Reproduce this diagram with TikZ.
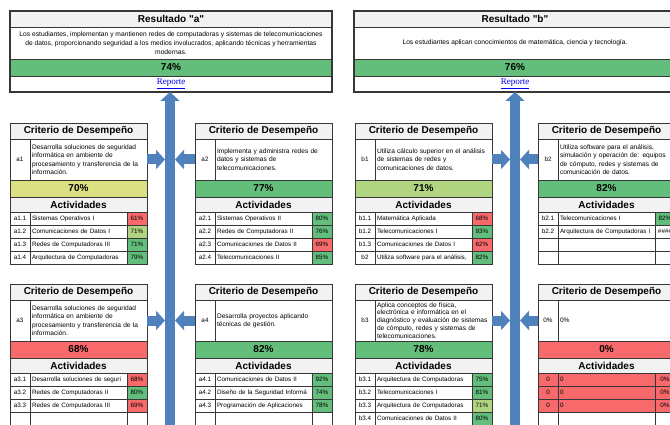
\documentclass[tikz,border=0pt]{standalone}
\usepackage{fontspec}
\setmainfont{Liberation Sans}
\newfontfamily\serifa{Liberation Serif}
\usetikzlibrary{arrows.meta}

\definecolor{verde}{RGB}{99,190,123}
\definecolor{verdeclaro}{RGB}{177,212,128}
\definecolor{amarillo}{RGB}{219,225,130}
\definecolor{rojo}{RGB}{248,105,107}
\definecolor{gris}{RGB}{242,242,242}
\definecolor{borde}{RGB}{55,55,55}
\definecolor{azul}{RGB}{79,129,189}
\definecolor{enlace}{RGB}{0,0,238}

\tikzset{
  celda/.style={draw=borde, line width=0.8pt, anchor=north west, inner sep=0pt, outer sep=0pt},
  cabecera/.style={celda, fill=gris, minimum height=16pt, font=\bfseries\fontsize{10}{12}\selectfont},
  barra/.style={celda, minimum height=17pt, font=\bfseries\fontsize{10}{12}\selectfont},
  texto/.style={celda, inner xsep=2pt, align=left, font=\fontsize{6.6}{8.3}\selectfont},
  chico/.style={celda, font=\fontsize{6.3}{7}\selectfont},
  flecha/.style={line width=10pt, draw=azul, -{Triangle[width=19pt,length=9pt]}}
}

% resultado: nombre, x, titulo, descripcion, porcentaje
\newcommand{\resultado}[5]{%
  \node[cabecera, minimum width=322pt] (#1-tit) at (#2,11) {#3};
  \node[celda, minimum width=322pt, minimum height=32pt, align=center,
        font=\fontsize{6.7}{9}\selectfont] (#1-desc) at (#2,27) {#4};
  \node[barra, fill=verde, minimum width=322pt] (#1-pct) at (#2,59) {#5};
  \node[celda, minimum width=322pt, minimum height=16pt, text=enlace,
        font=\serifa\fontsize{9}{10}\selectfont] (#1-rep) at (#2,76) {\underline{Reporte}};
  \draw[draw=borde, line width=1.3pt] (#1-tit.north west) rectangle (#1-rep.south east);
}

% criterio: nombre, x, y, clave, descripcion, porcentaje, color
\newcommand{\criterio}[7]{%
  \node[cabecera, minimum width=137pt] (#1-tit) at (#2,#3) {Criterio de Desempeño};
  \node[chico, minimum width=20pt, minimum height=41pt] (#1-id) at (#2,#3+16) {#4};
  \node[texto, text width=113pt, minimum height=41pt] (#1-desc) at (#2+20,#3+16) {#5};
  \node[barra, fill=#7, minimum width=137pt] (#1-pct) at (#2,#3+57) {#6};
  \node[cabecera, minimum height=15pt, minimum width=137pt] (#1-act) at (#2,#3+74) {Actividades};
}

% actividad: nombre, x, y, clave, materia, porcentaje, color, color de celda
\newcommand{\actividad}[8]{%
  \node[chico, fill=#8, minimum width=20pt, minimum height=13pt] (#1-id) at (#2,#3) {#4};
  \node[texto, fill=#8, text width=93pt, minimum height=13pt, font=\fontsize{6.3}{7}\selectfont]
    (#1-nom) at (#2+20,#3) {\mbox{#5}};
  \node[chico, fill=#7, minimum width=20pt, minimum height=13pt] (#1-pct) at (#2+117,#3) {#6};
}

\begin{document}
\begin{tikzpicture}[x=1pt,y=-1pt]
  \useasboundingbox (0,0) rectangle (670,425);
  \clip (0,0) rectangle (670,425);

  \resultado{resA}{10}{Resultado \textquotedbl a\textquotedbl}{Los estudiantes, implementan y mantienen redes de computadoras y sistemas de telecomunicaciones\\de datos, proporcionando seguridad a los medios involucrados, aplicando técnicas y herramientas\\modernas.}{74\%}
  \resultado{resB}{354}{Resultado \textquotedbl b\textquotedbl}{Los estudiantes aplican conocimientos de matemática, ciencia y tecnología.}{76\%}

  % fila superior
  \criterio{a1}{10}{123}{a1}{Desarrolla soluciones de seguridad\\informática en ambiente de\\procesamiento y transferencia de la\\información.}{70\%}{amarillo}
  \criterio{a2}{195}{123}{a2}{Implementa y administra redes de\\datos y sistemas de\\telecomunicaciones.}{77\%}{verde}
  \criterio{b1}{355}{123}{b1}{Utiliza cálculo superior en el análisis\\de sistemas de redes y\\comunicaciones de datos.}{71\%}{verdeclaro}
  \criterio{b2}{538}{123}{b2}{Utiliza software para el análisis,\\simulación y operación de: equipos\\de cómputo, redes y sistemas de\\comunicación de datos.}{82\%}{verde}

  \foreach \id/\nom/\pct/\col [count=\i from 0] in {a1.1/Sistemas Operativos I/61\%/rojo,
      a1.2/Comunicaciones de Datos I/71\%/verdeclaro, a1.3/Redes de Computadoras III/71\%/verde,
      a1.4/Arquitectura de Computadoras/79\%/verde}
    \actividad{a1-r\i}{10}{212+13*\i}{\id}{\nom}{\pct}{\col}{white};
  \foreach \id/\nom/\pct/\col [count=\i from 0] in {a2.1/Sistemas Operativos II/80\%/verde,
      a2.2/Redes de Computadoras II/76\%/verde, a2.3/Comunicaciones de Datos II/69\%/rojo,
      a2.4/Telecomunicaciones II/85\%/verde}
    \actividad{a2-r\i}{195}{212+13*\i}{\id}{\nom}{\pct}{\col}{white};
  \foreach \id/\nom/\pct/\col [count=\i from 0] in {b1.1/Matemática Aplicada/68\%/rojo,
      b1.2/Telecomunicaciones I/93\%/verde, b1.3/Comunicaciones de Datos I/62\%/rojo,
      b2/{Utiliza software para el análisis,}/82\%/verde}
    \actividad{b1-r\i}{355}{212+13*\i}{\id}{\nom}{\pct}{\col}{white};
  \foreach \id/\nom/\pct/\col [count=\i from 0] in {b2.1/Telecomunicaciones I/82\%/verde,
      b2.2/Arquitectura de Computadoras I/\#\#\#\#/white, //{}/white, //{}/white}
    \actividad{b2-r\i}{538}{212+13*\i}{\id}{\nom}{\pct}{\col}{white};

  % fila inferior
  \criterio{a3}{10}{284}{a3}{Desarrolla soluciones de seguridad\\informática en ambiente de\\procesamiento y transferencia de la\\información.}{68\%}{rojo}
  \criterio{a4}{195}{284}{a4}{Desarrolla proyectos aplicando\\técnicas de gestión.}{82\%}{verde}
  \criterio{b3}{355}{284}{b3}{\fontsize{6.6}{7.8}\selectfont Aplica conceptos de física,\\electrónica e informática en el\\diagnóstico y evaluación de sistemas\\de cómputo, redes y sistemas de\\telecomunicaciones.}{78\%}{verde}
  \criterio{b4}{538}{284}{0\%}{0\%}{0\%}{rojo}

  \foreach \id/\nom/\pct/\col [count=\i from 0] in {a3.1/Desarrolla soluciones de seguri/68\%/rojo,
      a3.2/Redes de Computadoras II/80\%/verde, a3.3/Redes de Computadoras III/69\%/rojo, //{}/white}
    \actividad{a3-r\i}{10}{373+13*\i}{\id}{\nom}{\pct}{\col}{white};
  \foreach \id/\nom/\pct/\col [count=\i from 0] in {a4.1/Comunicaciones de Datos II/92\%/verde,
      a4.2/Diseño de la Seguridad Informá/74\%/verde, a4.3/Programación de Aplicaciones/78\%/verde,
      //{}/white}
    \actividad{a4-r\i}{195}{373+13*\i}{\id}{\nom}{\pct}{\col}{white};
  \foreach \id/\nom/\pct/\col [count=\i from 0] in {b3.1/Arquitectura de Computadoras/75\%/verde,
      b3.2/Telecomunicaciones I/81\%/verde, b3.3/Arquitectura de Computadoras/71\%/verdeclaro,
      b3.4/Comunicaciones de Datos II/80\%/verde}
    \actividad{b3-r\i}{355}{373+13*\i}{\id}{\nom}{\pct}{\col}{white};
  \foreach \i in {0,1,2}
    \actividad{b4-r\i}{538}{373+13*\i}{0}{0}{0\%}{rojo}{rojo};
  \actividad{b4-r3}{538}{412}{}{}{}{white}{white};

  % ejes y flechas
  \coordinate (ejeA) at (170,440);
  \coordinate (ejeA-izq) at (165,0);
  \coordinate (ejeA-der) at (175,0);
  \coordinate (ejeB) at (515,440);
  \coordinate (ejeB-izq) at (510,0);
  \coordinate (ejeB-der) at (520,0);

  \draw[flecha] (ejeA) -- (ejeA |- resA-rep.south);
  \draw[flecha] (ejeB) -- (ejeB |- resB-rep.south);
  \foreach \c in {a1,a3}
    \draw[flecha] (\c-desc.east) -- (\c-desc.east -| ejeA-izq);
  \foreach \c in {a2,a4}
    \draw[flecha] (\c-id.west) -- (\c-id.west -| ejeA-der);
  \foreach \c in {b1,b3}
    \draw[flecha] (\c-desc.east) -- (\c-desc.east -| ejeB-izq);
  \foreach \c in {b2,b4}
    \draw[flecha] (\c-id.west) -- (\c-id.west -| ejeB-der);
\end{tikzpicture}
\end{document}
